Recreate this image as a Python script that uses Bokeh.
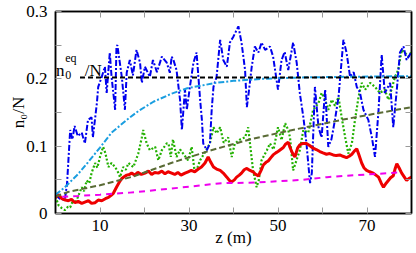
from bokeh.plotting import figure
from bokeh.models import Range1d, FixedTicker, LinearAxis, CustomJSTickFormatter, ColumnDataSource
from bokeh.core.properties import value
from bokeh.embed import file_html
from bokeh.resources import INLINE

# ---------------- data ----------------
blue_z = [0, 1, 2.1, 2.6, 3.3, 3.8, 4.3, 5, 5.9, 6.6, 7.3, 8.1, 8.4, 9.3, 9.6, 10.4, 11.1, 11.5, 12.2, 12.6,
          13.4, 13.7, 13.9, 14.9, 15.6, 16, 16.7, 17.4, 18.2, 19, 19.4, 20.1, 21.2, 21.9, 22.8, 23.9, 25, 25.7,
          26.1, 26.5, 27.2, 28, 28.4, 29.1, 29.5, 30.2, 31, 31.7, 32.5, 32.9, 33.2, 33.6, 34, 34.7, 35.1, 35.5,
          36.2, 37, 37.7, 38.5, 39.2, 40, 41.1, 41.8, 42.6, 43, 43.3, 44.1, 44.8, 45.6, 46.3, 47.1, 48.2, 48.9,
          50, 50.8, 51.5, 52.3, 52.7, 53.4, 54.2, 54.9, 55.7, 56.4, 57.2, 57.6, 58.3, 59.1, 59.8, 60.6, 61.3,
          62, 62.8, 63.6, 64.7, 65.4, 66.2, 67, 67.7, 68.4, 69.2, 70.3, 71.1, 71.8, 72.6, 73.3, 74, 75.2, 75.9,
          76.7, 77.4, 78.2, 78.9, 80]
blue_n = [0.027, 0.022, 0.02, 0.045, 0.124, 0.11, 0.13, 0.115, 0.12, 0.104, 0.139, 0.143, 0.113, 0.164, 0.188,
          0.203, 0.218, 0.179, 0.239, 0.203, 0.154, 0.248, 0.25, 0.203, 0.154, 0.209, 0.228, 0.205, 0.243, 0.224,
          0.194, 0.218, 0.203, 0.228, 0.21, 0.233, 0.224, 0.209, 0.233, 0.228, 0.213, 0.168, 0.124, 0.184, 0.154,
          0.188, 0.224, 0.239, 0.169, 0.139, 0.104, 0.099, 0.094, 0.104, 0.154, 0.188, 0.203, 0.258, 0.228, 0.218,
          0.254, 0.263, 0.278, 0.254, 0.213, 0.158, 0.173, 0.218, 0.248, 0.239, 0.254, 0.243, 0.248, 0.233, 0.184,
          0.228, 0.24, 0.213, 0.228, 0.254, 0.224, 0.179, 0.143, 0.104, 0.045, 0.06, 0.188, 0.128, 0.113, 0.184,
          0.099, 0.11, 0.139, 0.173, 0.258, 0.239, 0.203, 0.21, 0.188, 0.18, 0.154, 0.139, 0.113, 0.084, 0.154,
          0.236, 0.179, 0.194, 0.128, 0.184, 0.239, 0.248, 0.228, 0.24]

green_z = [0, 0.7, 1.4, 2.1, 2.8, 3.3, 3.9, 4.4, 5, 5.9, 6.4, 7, 7.6, 8.1, 8.9, 9.4, 10, 10.7, 11.2, 11.9, 12.6,
           13.4, 14, 14.5, 15.2, 15.8, 16.4, 17.5, 18.6, 19.4, 19.7, 20.5, 21.2, 22.4, 23.1, 23.9, 25, 25.4, 25.9,
           26.4, 27.2, 28, 28.7, 29.8, 30.6, 31.3, 32, 32.5, 33.5, 34.7, 35.5, 36.2, 37, 37.8, 38.8, 39.6, 40.3,
           41.5, 42.6, 43.3, 43.7, 44.4, 45.2, 45.7, 46.3, 47.5, 48.2, 49, 50, 50.8, 51.6, 52.3, 52.7, 53.4, 54.2,
           54.9, 55.7, 56.8, 57.9, 59.1, 59.8, 60.6, 61.3, 62.1, 62.8, 63.6, 64.3, 65.1, 65.8, 66.6, 67.3, 68.1,
           68.8, 69.6, 70.7, 71.8, 72.9, 74, 74.8, 75.5, 76.3, 77, 77.8, 78.5, 79.3, 80]
green_n = [0.025, 0.012, 0.008, 0.005, 0.01, 0.009, 0.019, 0.015, 0.024, 0.039, 0.033, 0.049, 0.045, 0.06, 0.075,
           0.068, 0.084, 0.099, 0.09, 0.069, 0.075, 0.069, 0.062, 0.054, 0.069, 0.065, 0.075, 0.069, 0.089, 0.113,
           0.124, 0.104, 0.094, 0.099, 0.079, 0.094, 0.104, 0.104, 0.084, 0.11, 0.084, 0.095, 0.089, 0.079, 0.099,
           0.06, 0.07, 0.079, 0.09, 0.104, 0.128, 0.119, 0.128, 0.105, 0.113, 0.084, 0.104, 0.11, 0.113, 0.128,
           0.104, 0.064, 0.039, 0.05, 0.079, 0.094, 0.104, 0.095, 0.128, 0.109, 0.134, 0.124, 0.113, 0.064, 0.08,
           0.094, 0.124, 0.12, 0.154, 0.164, 0.179, 0.169, 0.154, 0.169, 0.16, 0.173, 0.143, 0.113, 0.089, 0.104,
           0.139, 0.173, 0.194, 0.184, 0.194, 0.188, 0.179, 0.184, 0.169, 0.184, 0.203, 0.213, 0.243, 0.239,
           0.233, 0.24]

red_z = [0, 0.7, 1.4, 2.2, 2.9, 3.6, 4.4, 5.1, 5.9, 6.6, 7.4, 8.1, 8.9, 9.6, 10.4, 11.2, 11.9, 12.5, 13, 13.7,
         14.3, 14.9, 15.5, 16, 16.6, 17.1, 17.8, 18.5, 19.3, 20.1, 20.9, 21.6, 22.3, 23.1, 23.9, 24.6, 25.3, 26.1,
         26.8, 27.5, 28.2, 29.1, 29.8, 30.5, 31.3, 32.1, 32.8, 33.6, 34.3, 34.9, 35.5, 36.2, 37, 37.7, 38.5, 39.1,
         39.6, 40.2, 40.7, 41.3, 41.8, 42.4, 43, 43.7, 44.4, 45, 45.6, 46.2, 46.7, 47.3, 47.8, 48.4, 48.9, 49.5,
         50, 50.6, 51.2, 51.7, 52.3, 52.7, 53.3, 53.8, 54.4, 54.9, 55.6, 56.4, 57.1, 57.9, 58.6, 59.4, 60.1, 60.9,
         61.6, 62.4, 63.1, 63.9, 64.6, 65.4, 66, 66.6, 67.2, 67.7, 68.2, 68.8, 69.3, 69.9, 70.6, 71.4, 72, 72.6,
         73.2, 73.7, 74.3, 74.8, 75.3, 75.9, 76.3, 76.7, 77.2, 77.8, 78.4, 78.9, 79.4, 80]
red_n = [0.024, 0.028, 0.022, 0.02, 0.019, 0.021, 0.016, 0.018, 0.015, 0.017, 0.019, 0.015, 0.016, 0.02, 0.019,
         0.022, 0.024, 0.027, 0.03, 0.039, 0.046, 0.052, 0.055, 0.057, 0.058, 0.06, 0.057, 0.061, 0.058, 0.06,
         0.063, 0.058, 0.061, 0.06, 0.063, 0.059, 0.062, 0.06, 0.058, 0.061, 0.057, 0.06, 0.062, 0.064, 0.062,
         0.066, 0.069, 0.075, 0.084, 0.076, 0.069, 0.066, 0.064, 0.06, 0.054, 0.049, 0.047, 0.05, 0.054, 0.057,
         0.06, 0.065, 0.067, 0.064, 0.062, 0.058, 0.056, 0.064, 0.072, 0.076, 0.078, 0.083, 0.087, 0.09, 0.092,
         0.095, 0.098, 0.103, 0.106, 0.098, 0.089, 0.084, 0.097, 0.102, 0.104, 0.104, 0.101, 0.097, 0.095, 0.092,
         0.09, 0.088, 0.089, 0.087, 0.086, 0.087, 0.085, 0.083, 0.085, 0.088, 0.093, 0.096, 0.087, 0.075, 0.068,
         0.064, 0.062, 0.06, 0.057, 0.054, 0.045, 0.039, 0.045, 0.049, 0.053, 0.056, 0.066, 0.074, 0.068, 0.06,
         0.054, 0.049, 0.052, 0.054]

cyan_z = [0, 2.1, 5, 7.3, 10, 12.6, 16, 18.6, 22, 26.1, 29.6, 36, 40, 46.6, 55, 65, 80]
cyan_n = [0.028, 0.039, 0.058, 0.076, 0.098, 0.12, 0.139, 0.152, 0.166, 0.178, 0.186, 0.194, 0.197, 0.2, 0.202,
          0.203, 0.204]

olive_z = [0, 2.8, 10, 17.5, 26, 35, 43.7, 52.5, 65, 80]
olive_n = [0.025, 0.032, 0.042, 0.055, 0.075, 0.094, 0.11, 0.123, 0.14, 0.158]

magenta_z = [1.5, 5, 10, 16.7, 26, 37.3, 44.8, 55.6, 61, 70, 77.4]
magenta_n = [0.025, 0.026, 0.028, 0.031, 0.037, 0.045, 0.046, 0.05, 0.054, 0.058, 0.061]

eq_z = [5.5, 80]
eq_n = [0.202, 0.202]

x_ticks = [10, 30, 50, 70]
x_minor = [20, 40, 60]
y_ticks = [0, 0.1, 0.2, 0.3]
y_minor = [0.05, 0.15, 0.25]

# annotation n0^eq/N : pieces, anchor positions (data), sizes
lab_text = ["n", "0", "eq", "/N"]
lab_z = [0.1, 2.2, 2.2, 6.6]
lab_n = [0.213, 0.205, 0.231, 0.213]
lab_size = ["17px", "12px", "12px", "17px"]

FONT = "Liberation Serif"

p = figure(width=413, height=253, output_backend="svg", toolbar_location=None,
           x_range=Range1d(0, 80), y_range=Range1d(0, 0.3),
           min_border_left=55, min_border_right=2, min_border_top=11, min_border_bottom=40)
p.grid.visible = False
p.outline_line_color = "black"
p.outline_line_width = 1.5
p.background_fill_color = "white"
p.border_fill_color = "white"

def style_axis(ax, ticks, minor):
    ax.ticker = FixedTicker(ticks=ticks, minor_ticks=minor)
    ax.axis_line_color = "black"
    ax.axis_line_width = 1.5
    ax.major_tick_line_color = "#999999"
    ax.minor_tick_line_color = "#999999"
    ax.major_tick_line_width = 1
    ax.minor_tick_line_width = 1
    ax.major_tick_in = 6
    ax.major_tick_out = 0
    ax.minor_tick_in = 6
    ax.minor_tick_out = 0
    ax.major_label_text_font = FONT
    ax.major_label_text_font_size = "17px"
    ax.major_label_text_color = "black"
    ax.axis_label_text_font = FONT
    ax.axis_label_text_font_size = "17px"
    ax.axis_label_text_font_style = "normal"
    ax.axis_label_text_color = "black"

xa = p.xaxis[0]
ya = p.yaxis[0]
style_axis(xa, x_ticks, x_minor)
style_axis(ya, y_ticks, y_minor)
xa.axis_label = "z (m)"
xa.major_label_standoff = 6
xa.axis_label_standoff = -6
ya.axis_label = "n₀/N"
ya.major_label_standoff = 8
ya.axis_label_standoff = -5
ya.formatter = CustomJSTickFormatter(code="return tick === 0 ? '0' : tick.toFixed(1);")

# mirrored ticks on top and right (no labels drawn)
top = LinearAxis()
right = LinearAxis()
style_axis(top, x_ticks + x_minor, [])
style_axis(right, y_ticks + y_minor, [])
for ax in (top, right):
    ax.major_label_text_font_size = "1px"
    ax.major_label_text_color = None
    ax.major_label_standoff = 0
p.add_layout(top, "above")
p.add_layout(right, "right")

# ---------------- series ----------------
p.line(green_z, green_n, line_color="#22b000", line_width=2.2, line_dash="2 2")
p.line(blue_z, blue_n, line_color="#0000ee", line_width=2, line_dash="6 2 2 2")
p.line(red_z, red_n, line_color="#ee0000", line_width=3)
p.line(cyan_z, cyan_n, line_color="#1a9ee0", line_width=2, line_dash="6 2 2 2")
p.line(olive_z, olive_n, line_color="#5a6b35", line_width=2, line_dash="6 3")
p.line(magenta_z, magenta_n, line_color="#ee00ee", line_width=2, line_dash="6 5")
p.line(eq_z, eq_n, line_color="black", line_width=2, line_dash="5 3")

src = ColumnDataSource(dict(x=lab_z, y=lab_n, t=lab_text, s=lab_size))
p.text(x="x", y="y", text="t", source=src, text_font=value(FONT), text_font_size="s",
       text_baseline="middle", text_align="left", text_color="black")

open("out.html", "w").write(file_html(p, INLINE))
